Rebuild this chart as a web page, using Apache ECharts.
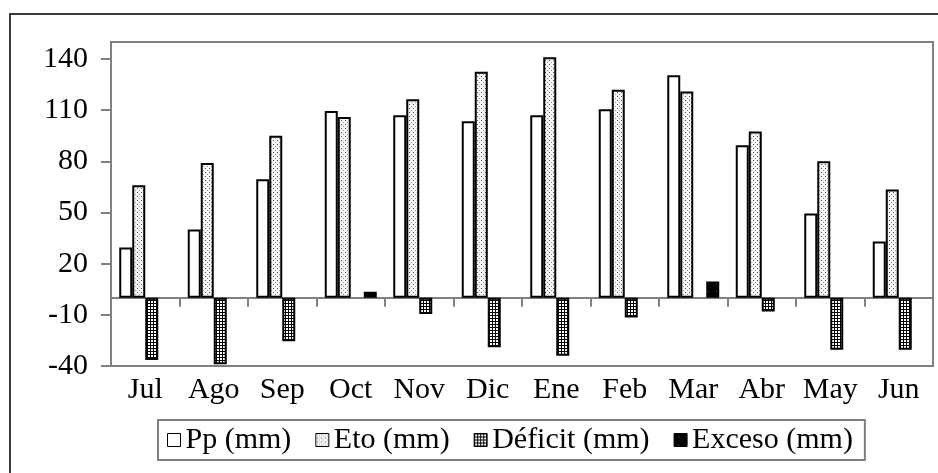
<!DOCTYPE html>
<html>
<head>
<meta charset="utf-8">
<script src="https://cdn.jsdelivr.net/npm/echarts@6/dist/echarts.min.js"></script>
<style>
  html, body { margin: 0; padding: 0; background: #fff; }
  #chart { width: 938px; height: 473px; }
</style>
</head>
<body>
<div id="chart"></div>
<script>
// Monthly water balance (mm)
const months = ['Jul', 'Ago', 'Sep', 'Oct', 'Nov', 'Dic', 'Ene', 'Feb', 'Mar', 'Abr', 'May', 'Jun'];
const pp      = [29.5, 40, 69.5, 109.5, 107, 103.5, 107, 110.5, 130.5, 89.5, 49.5, 33];
const eto     = [66, 79, 95, 106, 116.5, 132.5, 141, 122, 121, 97.5, 80, 63.5];
const deficit = [-36.5, -39, -25.5, null, -9.5, -29, -34, -11.5, null, -8, -30.5, -30.5];
const exceso  = [null, null, null, 3.5, null, null, null, null, 9.5, null, null, null];
const yTicks  = [-40, -10, 20, 50, 80, 110, 140];

const FONT = 'Liberation Serif';
const FS = 30;

// Fill patterns for the bars
function makePattern(w, h, draw) {
  const c = document.createElement('canvas');
  c.width = w; c.height = h;
  const g = c.getContext('2d');
  draw(g);
  return { image: c, repeat: 'repeat' };
}
const dotFill = makePattern(4, 4, g => {
  g.fillStyle = '#f6f6f6'; g.fillRect(0, 0, 4, 4);
  g.fillStyle = '#555'; g.fillRect(1, 0, 1, 1);
  g.fillStyle = '#999'; g.fillRect(3, 2, 1, 1);
});
const gridFill = makePattern(3, 3, g => {
  g.fillStyle = '#fff'; g.fillRect(0, 0, 3, 3);
  g.fillStyle = '#000'; g.fillRect(0, 0, 3, 1); g.fillRect(0, 0, 1, 3);
});
const darkFill = makePattern(8, 8, g => {
  g.fillStyle = '#000'; g.fillRect(0, 0, 8, 8);
  g.fillStyle = '#777'; g.fillRect(4, 3, 1, 1);
});

const barBase = {
  type: 'bar',
  barWidth: 13,
  barGap: '0%',
  xAxisIndex: 0,
  yAxisIndex: 0
};
const border = { borderColor: '#000', borderWidth: 2 };

const chart = echarts.init(document.getElementById('chart'), null, { renderer: 'canvas' });
chart.setOption({
  animation: false,
  backgroundColor: '#fff',
  textStyle: { fontFamily: FONT, color: '#000' },
  graphic: [{
    type: 'rect',
    shape: { x: 10, y: 14, width: 940, height: 470 },
    style: { fill: 'none', stroke: '#3a3a3a', lineWidth: 2 },
    silent: true
  }],
  grid: {
    left: 111, right: 5, top: 42, bottom: 107,
    show: true, borderColor: '#808080', borderWidth: 2, backgroundColor: 'transparent'
  },
  legend: {
    left: 158, top: 420,
    padding: [5, 12, 5, 9],
    itemGap: 24,
    icon: 'rect',
    itemWidth: 13, itemHeight: 13,
    borderColor: '#808080', borderWidth: 2,
    itemStyle: { borderColor: '#000', borderWidth: 1 },
    textStyle: { fontFamily: FONT, fontSize: FS, color: '#000' },
    data: ['Pp (mm)', 'Eto (mm)', 'Déficit (mm)', 'Exceso (mm)']
  },
  xAxis: [{
    type: 'category',
    data: months,
    position: 'bottom',
    axisLine: { onZero: true, lineStyle: { color: '#808080', width: 2 } },
    axisTick: { show: true, inside: false, length: 9, lineStyle: { color: '#808080', width: 2 } },
    axisLabel: { show: false },
    splitLine: { show: false }
  }, {
    type: 'category',
    data: months,
    position: 'bottom',
    axisLine: { show: false, onZero: false },
    axisTick: { show: false },
    axisLabel: { interval: 0, margin: 9, fontFamily: FONT, fontSize: FS, color: '#000' },
    splitLine: { show: false }
  }],
  yAxis: {
    type: 'value',
    min: -40, max: 150, interval: 30,
    axisLine: { show: true, onZero: false, lineStyle: { color: '#808080', width: 2 } },
    axisTick: { show: true, length: 10, customValues: yTicks, lineStyle: { color: '#808080', width: 2 } },
    axisLabel: { margin: 23, fontFamily: FONT, fontSize: FS, color: '#000', customValues: yTicks },
    splitLine: { show: false }
  },
  series: [
    Object.assign({}, barBase, { name: 'Pp (mm)', data: pp, itemStyle: Object.assign({ color: '#fff' }, border) }),
    Object.assign({}, barBase, { name: 'Eto (mm)', data: eto, itemStyle: Object.assign({ color: dotFill }, border) }),
    Object.assign({}, barBase, { name: 'Déficit (mm)', data: deficit, itemStyle: Object.assign({ color: gridFill }, border) }),
    Object.assign({}, barBase, { name: 'Exceso (mm)', data: exceso, itemStyle: Object.assign({ color: darkFill }, border) })
  ]
});
</script>
</body>
</html>
